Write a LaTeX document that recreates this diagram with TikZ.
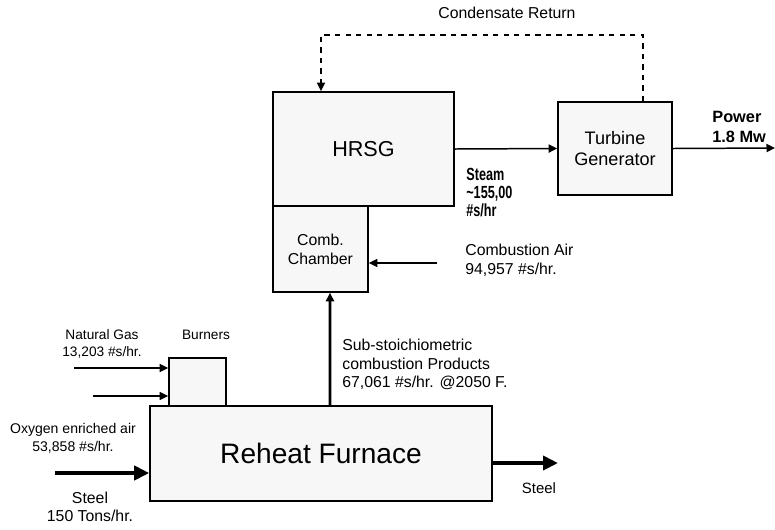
\documentclass[tikz,border=0pt]{standalone}
\usepackage{fontspec}
\setmainfont{Liberation Sans}
\usepackage{tikz}
\usetikzlibrary{arrows.meta,positioning,calc}
\definecolor{boxG}{RGB}{247,247,247}
\newcommand{\fs}[2]{\fontsize{#1}{#2}\selectfont}

\begin{document}
\begin{tikzpicture}[x=0.02cm, y=-0.02cm, >={Triangle[length=1.7mm, width=1.6mm]}]
  \useasboundingbox (0,0) rectangle (775,529);
  \tikzstyle{unit}=[draw, line width=0.9pt, fill=boxG, inner sep=0pt, align=center]
  \tikzstyle{flow}=[->, line width=0.85pt]
  \tikzstyle{hotflow}=[->, line width=1.5pt]
  \tikzstyle{bigflow}=[-{Triangle[length=3mm, width=2.8mm]}, line width=2.3pt]
  \tikzstyle{ret}=[->, dashed, line width=0.85pt]
  \tikzstyle{lbl}=[inner sep=0pt, align=center, font=\fs{8}{9.8}]

  % process units
  \node[unit, minimum width=3.62cm, minimum height=2.28cm, font=\fs{12.3}{14}] (hrsg) at (363.5,149) {HRSG};
  \node[unit, minimum width=1.9cm, minimum height=1.72cm, font=\fs{9}{10.8}] (comb) at (320.5,249) {Comb.\\Chamber};
  \node[unit, minimum width=2.28cm, minimum height=1.86cm, font=\fs{10.3}{12.2}] (turb) at (615,148.5) {Turbine\\Generator};
  \node[unit, minimum width=1.14cm, minimum height=0.96cm] (burn) at (197.5,382) {};
  \node[unit, minimum width=6.84cm, minimum height=1.9cm, font=\fs{16}{18}] (furn) at (321,453.5) {Reheat Furnace};

  % free ends
  \coordinate (pwr) at (775,148);
  \coordinate (top) at (321,35);
  \coordinate (air) at (437,263);
  \coordinate (ng1) at (74,368);
  \coordinate (ng2) at (93,396);
  \coordinate (stin) at (55,473);
  \coordinate (stout) at (558,463);

  % connectors
  \draw[flow] (hrsg.east) -- (turb.west);
  \draw[flow] (turb.east) -- (pwr);
  \draw[ret] ($(turb.north)+(28,0)$) |- (top) -- (top |- hrsg.north);
  \draw[flow] (air) -- (air -| comb.east);
  \draw[hotflow] ($(furn.north)+(9,0)$) -- ($(comb.south)+(9.5,0)$);
  \draw[flow] (ng1) -- (ng1 -| burn.west);
  \draw[flow] (ng2) -- (ng2 -| burn.west);
  \draw[bigflow] (stin) -- (stin -| furn.west);
  \draw[bigflow] (stout -| furn.east) -- (stout);

  % labels
  \node[lbl, font=\fs{9}{10.8}] (cond) at (507,13) {Condensate Return};
  \node[lbl, anchor=west, font=\bfseries\fs{10}{10.4}] (steam) at (466,195)
    {\scalebox{0.72}[1]{\begin{tabular}{@{}l@{}}Steam\\\textasciitilde155,00\\\#s/hr\end{tabular}}};
  \node[lbl, anchor=west, align=left, font=\bfseries\fs{9.3}{11.3}] (power) at (712,127) {Power\\1.8 Mw};
  \node[lbl, anchor=west, align=left, font=\fs{9}{10.8}] (airl) at (465,260.5) {Combustion Air\\94,957 \#s/hr.};
  \node[lbl, anchor=west, align=left, font=\fs{9}{10.6}] (prod) at (342,364.5) {Sub-stoichiometric\\combustion Products\\67,061 \#s/hr. @2050 F.};
  \node[lbl, font=\fs{7.8}{9.6}] (ngl) at (102,343.5) {Natural Gas\\13,203 \#s/hr.};
  \node[lbl, font=\fs{7.8}{9.6}] (burnl) at (206,335) {Burners};
  \node[lbl, font=\fs{8}{10.2}] (oxy) at (73,438) {Oxygen enriched air\\53,858 \#s/hr.};
  \node[lbl, font=\fs{9}{10.4}] (stinl) at (90,507) {Steel\\150 Tons/hr.};
  \node[lbl, font=\fs{8.5}{10}] (stoutl) at (539,488) {Steel};
\end{tikzpicture}
\end{document}
